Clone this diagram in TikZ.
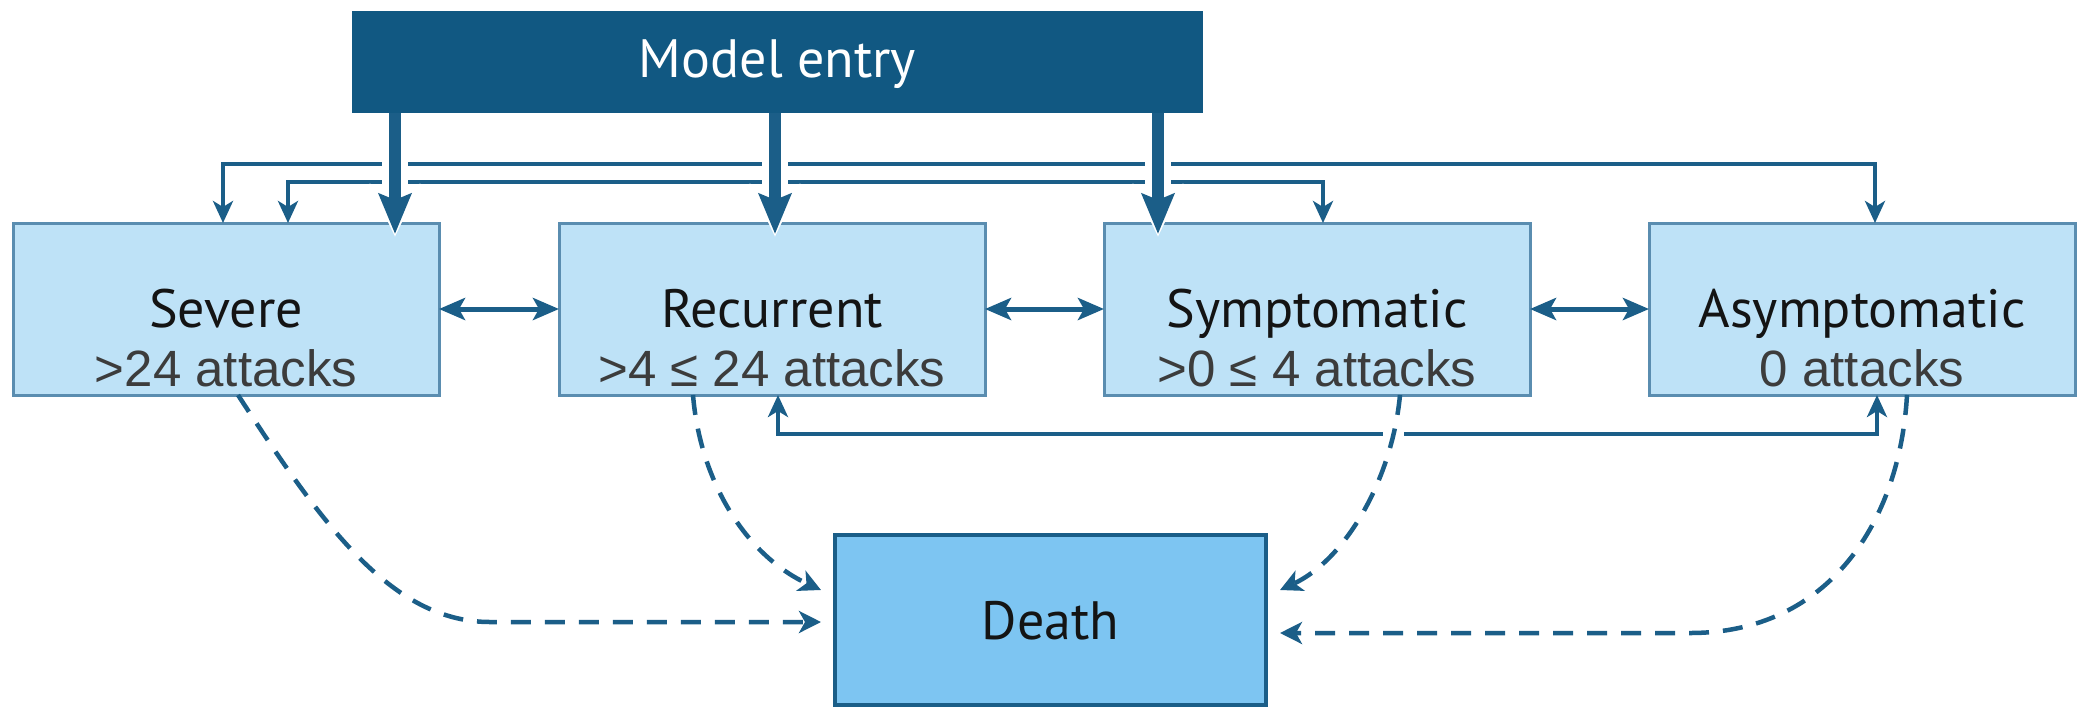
\documentclass[tikz,border=0pt]{standalone}
\usepackage{fontspec}
\setmainfont{Liberation Sans}
\newfontfamily\headfont{PT Sans}
\usetikzlibrary{arrows.meta,calc}
\definecolor{dblue}{HTML}{115882}
\definecolor{ablue}{HTML}{1B5E88}
\definecolor{lbox}{HTML}{BEE2F7}
\definecolor{lborder}{HTML}{5A8DB0}
\definecolor{dfill}{HTML}{7DC5F2}
\definecolor{numgray}{HTML}{3C3C3C}
\begin{document}
\begin{tikzpicture}[x=0.5pt,y=-0.5pt,
  statebox/.style={draw=lborder, line width=1.5pt, fill=lbox, minimum width=213pt, minimum height=86pt, inner sep=0pt, outer sep=0pt, anchor=north west},
  entrybox/.style={fill=dblue, minimum width=425.5pt, minimum height=51pt, inner sep=0pt, outer sep=0pt, anchor=north west},
  deathbox/.style={draw=ablue, line width=2pt, fill=dfill, minimum width=215.5pt, minimum height=85pt, inner sep=0pt, outer sep=0pt, anchor=north west},
  headtxt/.style={font=\headfont\fontsize{27pt}{32pt}\selectfont, text=black!92, inner sep=0pt, anchor=base},
  numtxt/.style={font=\fontsize{25.5pt}{30pt}\selectfont, text=numgray, inner sep=0pt, anchor=base},
  thinln/.style={draw=ablue, line width=2pt},
  twoway/.style={arrows={Stealth[length=11pt,width=10pt,inset=3pt]-Stealth[length=11pt,width=10pt,inset=3pt]}},
  medln/.style={draw=ablue, line width=2.5pt, arrows={Stealth[length=13pt,width=11pt,inset=3pt]-Stealth[length=13pt,width=11pt,inset=3pt]}},
  dashln/.style={draw=ablue, line width=2.25pt, dash pattern=on 10pt off 7pt, arrows={-Stealth[length=11pt,width=11pt,inset=3pt]}},
  thickwhite/.style={draw=white, line width=13pt, arrows={-Stealth[length=26pt,width=24pt,inset=3pt]}},
  thickblue/.style={draw=ablue, line width=6pt, arrows={-Stealth[length=20pt,width=16pt,inset=3pt]}}
]
\useasboundingbox (0,0) rectangle (2085,709);
\fill[white] (0,0) rectangle (2085,709);

% boxes
\node[statebox] (sev) at (13,223) {};
\node[statebox] (rec) at (559,223) {};
\node[statebox] (sym) at (1104,223) {};
\node[statebox] (asy) at (1649,223) {};
\node[deathbox] (death) at (835,535) {};

% texts
\node[headtxt] (sevh) at (sev.center |- 0,327) {Severe};
\node[numtxt] (sevn) at (sev.center |- 0,386) {>24 attacks};
\node[headtxt] (rech) at (rec.center |- 0,327) {Recurrent};
\node[numtxt] (recn) at (rec.center |- 0,386) {>4 ≤ 24 attacks};
\node[headtxt] (symh) at (sym.center |- 0,327) {Symptomatic};
\node[numtxt] (symn) at (sym.center |- 0,386) {>0 ≤ 4 attacks};
\node[headtxt] (asyh) at (asy.center |- 0,327) {Asymptomatic};
\node[numtxt] (asyn) at (asy.center |- 0,386) {0 attacks};
\node[headtxt] (deathh) at (death.center |- 0,639) {Death};

% helper coordinates
\coordinate (t1) at (395,0);
\coordinate (t2) at (775,0);
\coordinate (t3) at (1158,0);
\coordinate (u1) at (223,164);
\coordinate (u2) at (1875,164);
\coordinate (v1) at (288,182);
\coordinate (v2) at (1323,182);
\coordinate (f1) at (778,434);
\coordinate (f2) at (1877,434);
\coordinate (d1) at (238,0);
\coordinate (d2) at (693,0);
\coordinate (d3) at (1400,0);
\coordinate (d4) at (1907,0);
\coordinate (e1) at (0,622);
\coordinate (e2) at (0,590);
\coordinate (e3) at (0,633);

% thin connectors from top
\draw[thinln, twoway] (sev.north -| u1) -- (u1) -| (asy.north -| u2);
\draw[thinln, twoway] (sev.north -| v1) -- (v1) -| (sym.north -| v2);

% horizontal two-way arrows
\draw[medln] (sev.east) -- (rec.west);
\draw[medln] (rec.east) -- (sym.west);
\draw[medln] (sym.east) -- (asy.west);

% bottom feedback
\draw[thinln, twoway] (rec.south -| f1) -- (f1) -| (asy.south -| f2);
\fill[white] (1383,427) rectangle (1404,441);

% dashed to death
\draw[dashln] (sev.south -| d1) .. controls (320,521) and (390,622) .. (490,622) -- ([xshift=-7pt]death.west |- e1);
\draw[dashln] (rec.south -| d2) .. controls (700,480) and (745,555) .. ([xshift=-7pt]death.west |- e2);
\draw[dashln] (sym.south -| d3) .. controls (1392,480) and (1345,560) .. ([xshift=7pt]death.east |- e2);
\draw[dashln] (asy.south -| d4) .. controls (1900,520) and (1830,633) .. (1690,633) -- ([xshift=7pt]death.east |- e3);

% model entry
\node[entrybox] (me) at (352,11) {};
\node[headtxt, text=white] (meh) at (me.center |- 0,77) {Model entry};

% thick arrows
\draw[thickwhite] (me.south -| t1) -- ([yshift=-7pt]sev.north -| t1);
\draw[thickblue] (me.south -| t1) -- ([yshift=-5.5pt]sev.north -| t1);
\draw[thickwhite] (me.south -| t2) -- ([yshift=-7pt]rec.north -| t2);
\draw[thickblue] (me.south -| t2) -- ([yshift=-5.5pt]rec.north -| t2);
\draw[thickwhite] (me.south -| t3) -- ([yshift=-7pt]sym.north -| t3);
\draw[thickblue] (me.south -| t3) -- ([yshift=-5.5pt]sym.north -| t3);
\end{tikzpicture}
\end{document}
